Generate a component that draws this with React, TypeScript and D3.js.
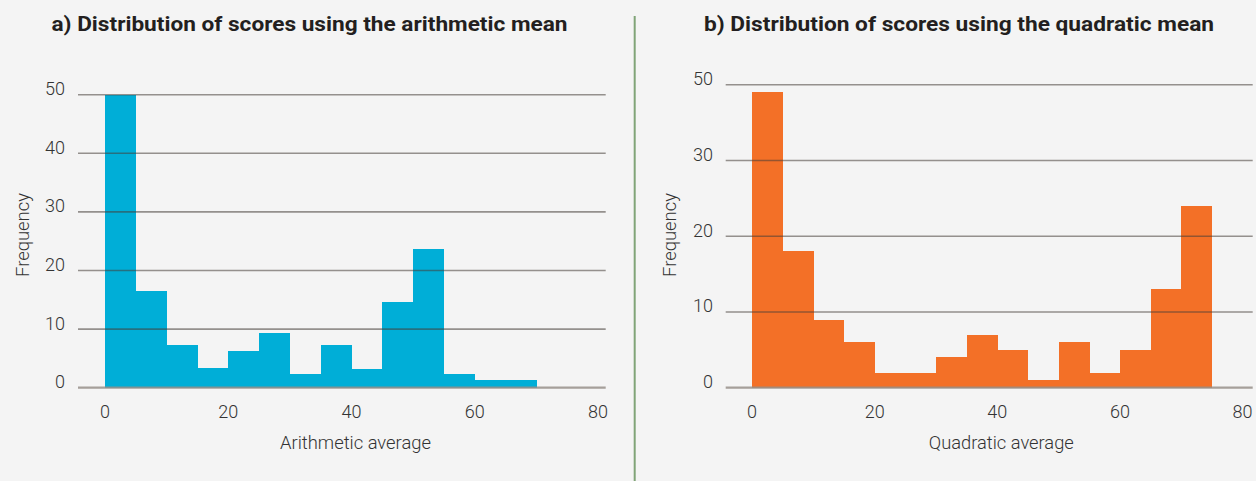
import React from 'react';
import * as d3 from 'd3';

// ---- Data ----
const binWidth = 5;
const binStartsA = [0, 5, 10, 15, 20, 25, 30, 35, 40, 45, 50, 55, 60, 65];
const freqA = [50, 16.5, 7.3, 3.4, 6.3, 9.3, 2.3, 7.3, 3.2, 14.7, 23.7, 2.3, 1.3, 1.3];
const binStartsB = [0, 5, 10, 15, 20, 25, 30, 35, 40, 45, 50, 55, 60, 65, 70];
const freqB = [39, 18, 9, 6, 2, 2, 4, 7, 5, 1, 6, 2, 5, 13, 24];
const xTicks = [0, 20, 40, 60, 80];
const yTicksA = [0, 10, 20, 30, 40, 50];
const yTickLabelsA = ['0', '10', '20', '30', '40', '50'];
const yTicksB = [0, 10, 20, 30, 40];
const yTickLabelsB = ['0', '10', '20', '30', '50'];
const titleA = 'a) Distribution of scores using the arithmetic mean';
const titleB = 'b) Distribution of scores using the quadratic mean';
const xTitleA = 'Arithmetic average';
const xTitleB = 'Quadratic average';
const yTitle = 'Frequency';

const FONT = 'Roboto, "Noto Sans", sans-serif';

type PanelProps = {
  title: string;
  titleX: number;
  titleW: number;
  starts: number[];
  freqs: number[];
  yTicks: number[];
  yLabels: string[];
  yMax: number;
  xRange: [number, number];
  yRange: [number, number];
  gridX: [number, number];
  yLabelX: number;
  yTitleX: number;
  color: string;
  xTitle: string;
  xTitleW: number;
};

function Panel(p: PanelProps) {
  const x = d3.scaleLinear().domain([0, 80]).range(p.xRange);
  const y = d3.scaleLinear().domain([0, p.yMax]).range(p.yRange);
  const xMid = (p.xRange[0] + p.xRange[1]) / 2 + 4;
  return (
    <g>
      <text
        x={p.titleX}
        y={31}
        fontFamily={FONT}
        fontWeight={700}
        fontSize={20}
        fill="#231f20"
        textLength={p.titleW}
        lengthAdjust="spacingAndGlyphs"
      >
        {p.title}
      </text>
      <g shapeRendering="crispEdges">
        {p.starts.map((s, i) => (
          <rect
            key={i}
            x={x(s)}
            y={y(p.freqs[i])}
            width={x(s + binWidth) - x(s) + 0.5}
            height={y(0) - y(p.freqs[i])}
            fill={p.color}
          />
        ))}
      </g>
      {p.yTicks.map((t, i) => (
        <g key={i}>
          <line
            x1={p.gridX[0]}
            x2={p.gridX[1]}
            y1={y(t)}
            y2={y(t)}
            stroke={t === 0 ? 'rgba(150,143,137,0.85)' : 'rgba(70,62,56,0.55)'}
            strokeWidth={t === 0 ? 2.2 : 1.6}
          />
          <text
            x={p.yLabelX}
            y={y(t) + 0.5}
            textAnchor="end"
            fontFamily={FONT}
            fontWeight={300}
            fontSize={18}
            fill="#333"
          >
            {p.yLabels[i]}
          </text>
        </g>
      ))}
      {xTicks.map((t) => (
        <text
          key={t}
          x={x(t)}
          y={418}
          textAnchor="middle"
          fontFamily={FONT}
          fontWeight={300}
          fontSize={18}
          fill="#333"
        >
          {t}
        </text>
      ))}
      <text
        x={xMid}
        y={449}
        textAnchor="middle"
        fontFamily={FONT}
        fontWeight={300}
        fontSize={18}
        fill="#333"
        textLength={p.xTitleW}
        lengthAdjust="spacingAndGlyphs"
      >
        {p.xTitle}
      </text>
      <text
        transform={`translate(${p.yTitleX},235) rotate(-90)`}
        textAnchor="middle"
        fontFamily={FONT}
        fontWeight={300}
        fontSize={18}
        fill="#333"
        textLength={84}
        lengthAdjust="spacingAndGlyphs"
      >
        {yTitle}
      </text>
    </g>
  );
}

export default function App() {
  return (
    <div style={{ position: 'absolute', left: 0, top: 0 }}>
      <svg width={1256} height={481} style={{ display: 'block' }}>
        <rect x={0} y={0} width={1256} height={481} fill="#f4f4f4" />
        <Panel
          title={titleA}
          titleX={51.5}
          titleW={516}
          starts={binStartsA}
          freqs={freqA}
          yTicks={yTicksA}
          yLabels={yTickLabelsA}
          yMax={50}
          xRange={[105, 598]}
          yRange={[387.7, 94.7]}
          gridX={[78, 605.7]}
          yLabelX={65}
          yTitleX={29}
          color="#00aed7"
          xTitle={xTitleA}
          xTitleW={151}
        />
        <line x1={634.7} x2={634.7} y1={16} y2={481} stroke="#80a477" strokeWidth={2} />
        <Panel
          title={titleB}
          titleX={704}
          titleW={510}
          starts={binStartsB}
          freqs={freqB}
          yTicks={yTicksB}
          yLabels={yTickLabelsB}
          yMax={40}
          xRange={[752, 1242.6]}
          yRange={[387.7, 84.7]}
          gridX={[725.7, 1252.7]}
          yLabelX={713}
          yTitleX={676}
          color="#f37027"
          xTitle={xTitleB}
          xTitleW={145}
        />
      </svg>
    </div>
  );
}
